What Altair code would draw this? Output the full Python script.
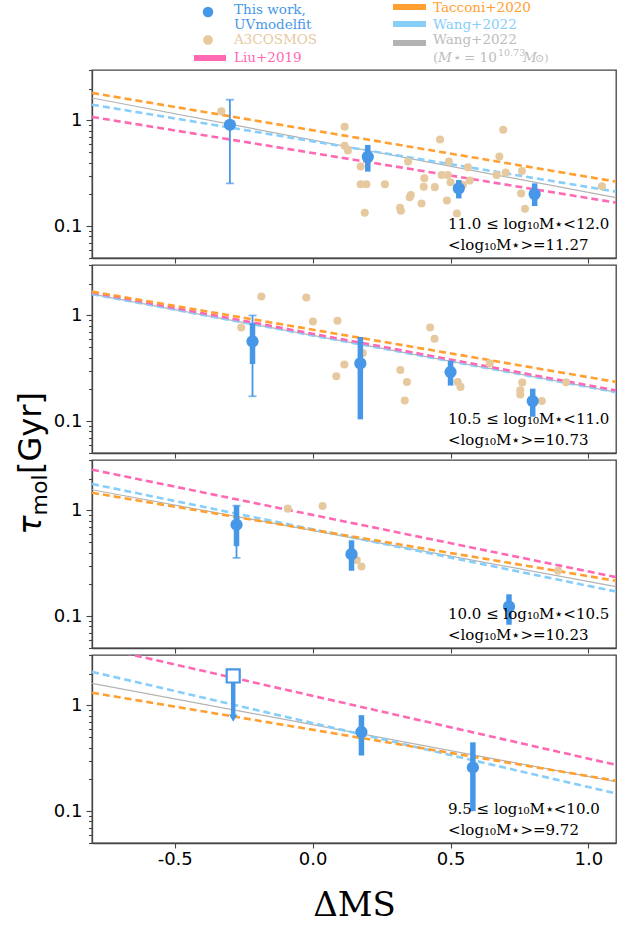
import altair as alt
import pandas as pd

# ---------------- data ----------------
X_MIN, X_MAX = -0.8, 1.1
Y_MIN, Y_MAX = 0.05, 3.0

panel_range = ["11.0 ≤ log₁₀M⋆<12.0", "10.5 ≤ log₁₀M⋆<11.0",
               "10.0 ≤ log₁₀M⋆<10.5", "9.5 ≤ log₁₀M⋆<10.0"]
panel_mean = ["<log₁₀M⋆>=11.27", "<log₁₀M⋆>=10.73",
              "<log₁₀M⋆>=10.23", "<log₁₀M⋆>=9.72"]

# This work (UVmodelfit)
uv_x = [[-0.30, 0.20, 0.53, 0.805], [-0.218, 0.173, 0.50, 0.798],
        [-0.276, 0.141, 0.712], [0.177, 0.581]]
uv_y = [[0.91, 0.452, 0.228, 0.201], [0.569, 0.352, 0.292, 0.155],
        [0.733, 0.386, 0.123], [0.561, 0.259]]
uv_lo = [[None, 0.328, 0.183, 0.155], [0.347, 0.104, 0.217, 0.110],
         [0.459, 0.269, 0.083], [0.336, 0.100]]
uv_hi = [[None, 0.587, 0.273, 0.254], [0.847, 0.625, 0.373, 0.203],
         [1.11, 0.522, 0.161], [0.809, 0.448]]
uv_lo_tot = [[0.254, None, None, None], [0.172, None, None, None],
             [0.356, None, None], [None, None]]
uv_hi_tot = [[1.57, None, None, None], [1.00, None, None, None],
             [1.11, None, None], [None, None]]

# upper limit (panel 4)
ul_x = [[], [], [], [-0.288]]
ul_y = [[], [], [], [1.90]]
ul_end = [[], [], [], [0.76]]

# A3COSMOS
a3_x = [
    [-0.331, 0.116, 0.116, 0.128, 0.174, 0.174, 0.195, 0.189, 0.262, 0.317,
     0.320, 0.346, 0.356, 0.352, 0.395, 0.405, 0.403, 0.443, 0.462, 0.468,
     0.487, 0.494, 0.490, 0.500, 0.523, 0.545, 0.563, 0.570, 0.667, 0.677,
     0.691, 0.700, 0.756, 0.759, 0.770, 1.049],
    [-0.259, -0.186, -0.023, 0.001, 0.090, 0.086, 0.115, 0.182, 0.318, 0.342,
     0.334, 0.426, 0.442, 0.526, 0.536, 0.642, 0.760, 0.753, 0.753, 0.831,
     0.919],
    [-0.090, 0.036, 0.160, 0.177, 0.890],
    [],
]
a3_y = [
    [1.22, 0.87, 0.575, 0.52, 0.366, 0.249, 0.249, 0.134, 0.249, 0.149,
     0.140, 0.408, 0.197, 0.188, 0.164, 0.284, 0.236, 0.234, 0.66, 0.305,
     0.175, 0.408, 0.305, 0.26, 0.132, 0.246, 0.36, 0.27, 0.305, 0.455,
     0.815, 0.321, 0.204, 0.332, 0.146, 0.238],
    [0.77, 1.51, 1.48, 0.878, 0.89, 0.266, 0.343, 0.441, 0.305, 0.235,
     0.157, 0.77, 0.602, 0.235, 0.211, 0.352, 0.232, 0.196, 0.179, 0.155,
     0.233],
    [1.04, 1.10, 0.339, 0.295, 0.269],
    [],
]

# scaling-relation lines: values at X_MIN and X_MAX for each panel
line_x = [X_MIN, X_MAX]
wang_fixed = [[1.63, 0.186], [1.59, 0.188], [1.57, 0.190], [1.62, 0.190]]
wang = [[1.41, 0.212], [1.59, 0.188], [1.78, 0.171], [2.08, 0.147]]
liu = [[1.08, 0.167], [1.65, 0.195], [2.43, 0.234], [3.68, 0.274]]
tacconi = [[1.82, 0.264], [1.68, 0.235], [1.47, 0.216], [1.32, 0.194]]

# ---------------- style ----------------
BLUE = "#4797e8"
TAN = "#e6c99f"
PINK = "#ff69b4"
ORANGE = "#ffa030"
LBLUE = "#87cefa"
GRAY = "#b3b3b3"
W, H = 524, 188
SERIF = "DejaVu Serif"
SANS = "DejaVu Sans"

xscale = alt.Scale(domain=[X_MIN, X_MAX], nice=False, zero=False)
yscale = alt.Scale(type="log", domain=[Y_MIN, Y_MAX], nice=False)
ytick_vals = [0.05, 0.06, 0.07, 0.08, 0.09, 0.1, 0.2, 0.3, 0.4, 0.5, 0.6,
              0.7, 0.8, 0.9, 1, 2, 3]
yax = alt.Axis(values=ytick_vals,
               labelExpr="datum.value == 1 ? '1' : (datum.value == 0.1 ? '0.1' : '')",
               tickSize={"condition": {"test": "datum.value == 1 || datum.value == 0.1",
                                       "value": 6}, "value": 3.5},
               labelPadding=4, labelOverlap=False, labelFlush=False, grid=False)


def xaxis(last):
    if last:
        return alt.Axis(values=[-0.5, 0.0, 0.5, 1.0], tickSize=5, labelPadding=2,
                        labelExpr="replace(format(datum.value, '.1f'), '\u2212', '-')",
                        labelFlush=False, titlePadding=20, grid=False)
    return alt.Axis(values=[-0.5, 0.0, 0.5, 1.0], tickSize=5, labels=False, grid=False)


def panel(i):
    last = i == 3
    xt = "ΔMS" if last else None
    X = lambda f: alt.X(f, type="quantitative", scale=xscale, axis=xaxis(last), title=xt)
    Y = lambda f: alt.Y(f, type="quantitative", scale=yscale, axis=yax, title=None)

    layers = []
    models = [("wf", wang_fixed, GRAY, None, 1.2), ("w", wang, LBLUE, [7, 4], 2.6),
              ("l", liu, PINK, [7, 4], 2.6), ("t", tacconi, ORANGE, [7, 4], 2.6)]
    for name, vals, col, dash, sw in models:
        df = pd.DataFrame({"x": line_x, "y": vals[i]})
        kw = dict(color=col, strokeWidth=sw, clip=True)
        if dash:
            kw["strokeDash"] = dash
        layers.append(alt.Chart(df).mark_line(**kw).encode(x=X("x"), y=Y("y")))

    if a3_x[i]:
        a3 = pd.DataFrame({"x": a3_x[i], "y": a3_y[i]})
        layers.append(alt.Chart(a3).mark_circle(color=TAN, opacity=1, size=65, clip=True)
                      .encode(x=X("x"), y=Y("y")))

    uv = pd.DataFrame({"x": uv_x[i], "y": uv_y[i], "lo": uv_lo[i], "hi": uv_hi[i],
                       "lo2": uv_lo_tot[i], "hi2": uv_hi_tot[i]})
    tot = uv.dropna(subset=["lo2"])
    if len(tot):
        layers.append(alt.Chart(tot).mark_rule(color=BLUE, strokeWidth=1.8)
                      .encode(x=X("x"), y=Y("lo2"), y2="hi2"))
        for c in ["lo2", "hi2"]:
            layers.append(alt.Chart(tot).mark_tick(color=BLUE, orient="horizontal",
                                                   size=8, thickness=1.8)
                          .encode(x=X("x"), y=Y(c)))
    thick = uv.dropna(subset=["lo"])
    layers.append(alt.Chart(thick).mark_rule(color=BLUE, strokeWidth=5.5)
                  .encode(x=X("x"), y=Y("lo"), y2="hi"))
    layers.append(alt.Chart(uv).mark_circle(color=BLUE, opacity=1, size=150)
                  .encode(x=X("x"), y=Y("y")))

    if ul_x[i]:
        ul = pd.DataFrame({"x": ul_x[i], "y": ul_y[i], "end": ul_end[i]})
        layers.append(alt.Chart(ul).mark_rule(color=BLUE, strokeWidth=4.5)
                      .encode(x=X("x"), y=Y("y"), y2="end"))
        layers.append(alt.Chart(ul).mark_point(shape="triangle-down", filled=True,
                                               color=BLUE, opacity=1, size=70)
                      .encode(x=X("x"), y=Y("end")))
        layers.append(alt.Chart(ul).mark_square(fill="white", stroke=BLUE, strokeWidth=2.2,
                                                opacity=1, size=170)
                      .encode(x=X("x"), y=Y("y")))

    ann = pd.DataFrame({"t1": [panel_range[i]], "t2": [panel_mean[i]]})
    layers.append(alt.Chart(ann).mark_text(align="left", baseline="middle", font=SERIF,
                                           fontSize=15, color="black")
                  .encode(x=alt.value(356), y=alt.value(154), text="t1:N"))
    layers.append(alt.Chart(ann).mark_text(align="left", baseline="middle", font=SERIF,
                                           fontSize=15, color="black")
                  .encode(x=alt.value(356), y=alt.value(175), text="t2:N"))

    if i == 1:
        one = pd.DataFrame({"k": [0]})
        for txt, xx, yy, fs, st in [("[Gyr]", -51, 168, 32, "normal"),
                                    ("mol", -45, 230, 22, "normal"),
                                    ("τ", -51, 260, 32, "italic")]:
            layers.append(alt.Chart(one).mark_text(angle=270, align="center",
                                                   baseline="alphabetic", font=SANS,
                                                   fontSize=fs, fontStyle=st, color="black")
                          .encode(x=alt.value(xx), y=alt.value(yy), text=alt.value(txt)))

    return alt.layer(*layers).properties(width=W, height=H)


# ---------------- legend ----------------
one = pd.DataFrame({"k": [0]})


def ltext(txt, x, y, color, size=13.5, style="normal"):
    return alt.Chart(one).mark_text(align="left", baseline="middle", font=SERIF,
                                    fontSize=size, fontStyle=style, color=color) \
        .encode(x=alt.value(x), y=alt.value(y), text=alt.value(txt))


def lrule(x1, x2, y, color):
    return alt.Chart(one).mark_rule(color=color, strokeWidth=6) \
        .encode(x=alt.value(x1), x2=alt.value(x2), y=alt.value(y))


def ldot(x, y, color, size):
    return alt.Chart(one).mark_circle(color=color, opacity=1, size=size) \
        .encode(x=alt.value(x), y=alt.value(y))


LGRAY = "#bdbdbd"
legend = alt.layer(
    ldot(116, 12, BLUE, 110), ltext("This work,", 142, 9.5, BLUE), ltext("UVmodelfit", 142, 24.5, BLUE),
    ldot(116, 40, TAN, 95), ltext("A3COSMOS", 142, 40, TAN),
    lrule(102, 134, 58, PINK), ltext("Liu+2019", 142, 58, PINK),
    lrule(301, 334, 7, ORANGE), ltext("Tacconi+2020", 341, 8, ORANGE),
    lrule(301, 334, 24, LBLUE), ltext("Wang+2022", 341, 25, LBLUE),
    lrule(301, 334, 43, GRAY), ltext("Wang+2022", 341, 39.5, LGRAY),
    ltext("(", 341, 58, LGRAY), ltext("M⋆", 346, 58, LGRAY, style="italic"),
    ltext("= 10", 372, 58, LGRAY), ltext("10.73", 406, 52.5, LGRAY, size=9.5),
    ltext("M", 431, 58, LGRAY, style="italic"), ltext("⊙)", 443, 59, LGRAY, size=11),
).properties(width=W, height=63, view=alt.ViewBackground(strokeOpacity=0))

chart = alt.vconcat(legend, panel(0), panel(1), panel(2), panel(3),
                    spacing=7, bounds="flush").properties(
    padding={"left": 14, "top": 0, "right": 15, "bottom": 3}
).configure_view(stroke="#444", strokeWidth=1.3).configure_axis(
    labelFont=SANS, labelFontSize=18, labelColor="black", tickColor="#444",
    domainColor="#444", domainWidth=1.3, tickWidth=1.1,
    titleFont=SERIF, titleFontSize=34, titleFontWeight="normal", titleColor="black")

chart.save("out.html", embed_options={"renderer": "svg", "actions": False})
